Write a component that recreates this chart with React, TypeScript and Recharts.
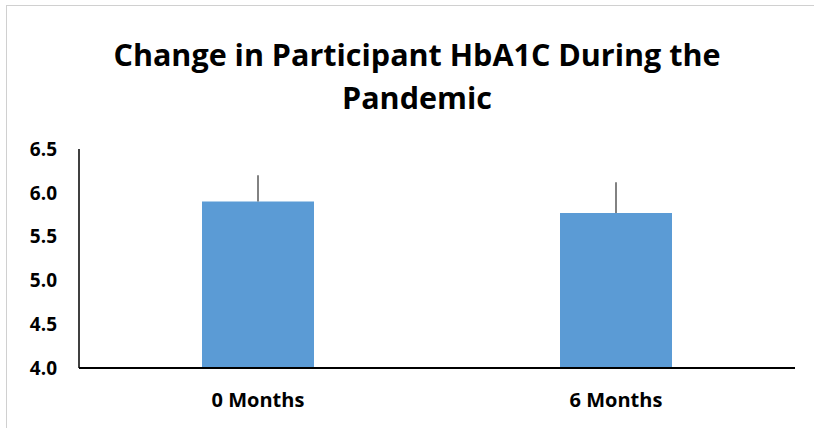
import React from "react";
import { BarChart, Bar, XAxis, YAxis, ErrorBar } from "recharts";

const categories = ["0 Months", "6 Months"];
const hba1cValues = [5.9, 5.77];
const errorUpper = [0.3, 0.35];
const yTicks = [4.0, 4.5, 5.0, 5.5, 6.0, 6.5];

const data = categories.map((c, i) => ({
  name: c,
  value: hba1cValues[i],
  err: [0, errorUpper[i]],
}));

const FONT = "'Open Sans', 'Liberation Sans', sans-serif";

export default function App() {
  return (
    <div
      style={{
        position: "fixed",
        left: 0,
        top: 0,
        width: 814,
        height: 428,
        overflow: "hidden",
        background: "#fff",
        fontFamily: FONT,
      }}
    >
      <div
        style={{
          position: "absolute",
          left: 0,
          width: 834,
          top: 33,
          textAlign: "center",
          fontWeight: 700,
          fontSize: 30.5,
          lineHeight: "43px",
          color: "#000",
        }}
      >
        Change in Participant HbA1C During the
        <br />
        Pandemic
      </div>
      <div style={{ position: "absolute", left: 0, top: 0 }}>
        <BarChart
          width={814}
          height={428}
          data={data}
          margin={{ top: 149, right: 19, bottom: 30, left: 0 }}
        >
          <XAxis
            dataKey="name"
            height={30}
            axisLine={{ stroke: "#000", strokeWidth: 2 }}
            tickLine={false}
            tickSize={0}
            tickMargin={25}
            tick={{ fill: "#000", fontSize: 20, fontWeight: 700, fontFamily: FONT }}
          />
          <YAxis
            width={79}
            domain={[4, 6.5]}
            ticks={yTicks}
            allowDataOverflow
            axisLine={{ stroke: "#000", strokeWidth: 1.5 }}
            tickLine={false}
            tickSize={0}
            tickMargin={22}
            tickFormatter={(v: number) => v.toFixed(1)}
            tick={{ fill: "#000", fontSize: 19, fontWeight: 700, fontFamily: FONT }}
          />
          <Bar dataKey="value" fill="#5B9BD5" barSize={112} isAnimationActive={false}>
            <ErrorBar dataKey="err" width={0} stroke="#595959" strokeWidth={1.5} direction="y" />
          </Bar>
        </BarChart>
      </div>
      <div
        style={{
          position: "absolute",
          left: 6,
          top: 5,
          width: 808,
          height: 423,
          borderTop: "1px solid #d0d0d0",
          borderLeft: "1px solid #d0d0d0",
          boxSizing: "border-box",
          zIndex: 10,
          pointerEvents: "none",
        }}
      />
    </div>
  );
}
